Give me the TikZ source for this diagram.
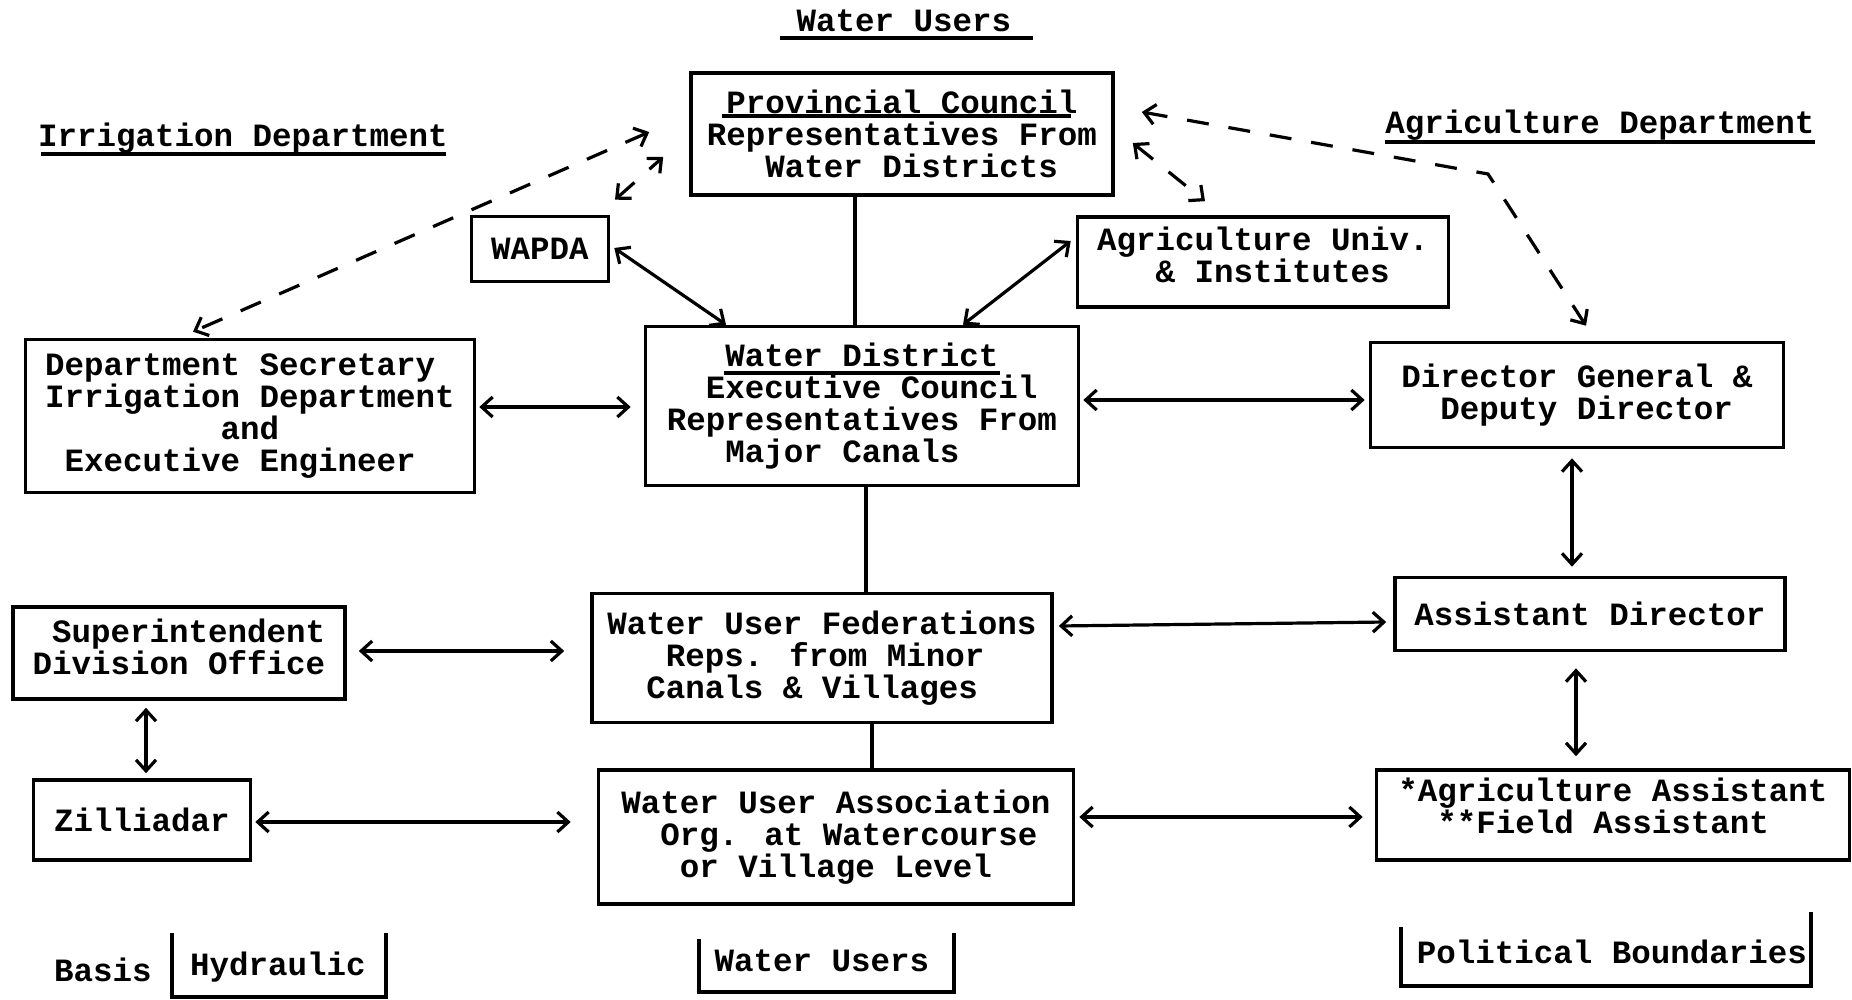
\documentclass[tikz,border=0pt]{standalone}
\usepackage{fontspec}
\newfontfamily\twfont{Liberation Mono}
\usetikzlibrary{arrows.meta}
\newcommand\txtfont{\twfont\bfseries\fontsize{32.5pt}{32pt}\selectfont}
\newcommand\ind[1]{\hspace*{#1\dimexpr19.5pt\relax}}
\tikzset{
  box/.style={draw, line width=3.6pt, align=left, font=\txtfont, inner sep=0pt},
  lbl/.style={align=center, font=\txtfont, inner sep=0pt},
  conn/.style={line width=3.2pt},
  tipb/.tip={Straight Barb[length=11pt,width=20pt]},
  arr/.style={conn, tipb-tipb},
  dashline/.style={line width=3.2pt, dash pattern=on 22pt off 20pt, tipb-tipb},
  uline/.style={line width=3.2pt},
  bracket/.style={line width=3.6pt}
}
\begin{document}
\begin{tikzpicture}[x=1pt,y=-1pt]
\useasboundingbox (0,0) rectangle (1852,1000);
% titles
\node[lbl] (t1) at (904,21) {Water Users};
\draw[uline] ([shift={(-124,17)}]t1.center) -- ++(253,0);
\node[lbl] (t2) at (243,138) {Irrigation Department};
\draw[uline] ([shift={(-202,16)}]t2.center) -- ++(405,0);
\node[lbl] (t3) at (1600,125) {Agriculture Department};
\draw[uline] ([shift={(-215,17)}]t3.center) -- ++(430,0);
% boxes
\node[box, minimum width=422pt, minimum height=122pt] (pc) at (902,134) {\ind{1}Provincial Council\\Representatives From\\\ind{3}Water Districts};
\draw[uline] ([shift={(-180,-18)}]pc.center) -- ++(349,0);
\node[box, minimum width=137pt, minimum height=65pt, align=center] (wapda) at (540,249) {WAPDA};
\node[box, minimum width=371pt, minimum height=90pt, text depth=14pt] (agri) at (1263,262) {Agriculture Univ.\\\ind{3}\& Institutes};
\node[box, minimum width=449pt, minimum height=153pt] (ds) at (250,416) {Department Secretary\\Irrigation Department\\\ind{9}and\\\ind{1}Executive Engineer};
\node[box, minimum width=433pt, minimum height=159pt] (wd) at (862,406) {\ind{3}Water District\\\ind{2}Executive Council\\Representatives From\\\ind{3}Major Canals};
\draw[uline] ([shift={(-138,-33)}]wd.center) -- ++(276,0);
\node[box, minimum width=413pt, minimum height=105pt] (dg) at (1577,395) {Director General \&\\\ind{2}Deputy Director};
\node[box, minimum width=332pt, minimum height=92pt, text depth=12pt] (sup) at (179,653) {\ind{1}Superintendent\\Division Office};
\node[box, minimum width=460pt, minimum height=129pt] (wuf) at (822,658) {Water User Federations\\\ind{3}Reps. from Minor\\\ind{2}Canals \& Villages};
\node[box, minimum width=390pt, minimum height=73pt, align=center] (ad) at (1590,614) {Assistant Director};
\node[box, minimum width=217pt, minimum height=80pt, align=center] (zil) at (142,820) {Zilliadar};
\node[box, minimum width=475pt, minimum height=134pt] (wua) at (836,837) {Water User Association\\\ind{2}Org. at Watercourse\\\ind{3}or Village Level};
\node[box, minimum width=473pt, minimum height=90pt, text depth=18pt] (aa) at (1613,815) {*Agriculture Assistant\\\ind{2}**Field Assistant};
% bottom labels
\node[lbl] (basis) at (103,970) {Basis};
\node[lbl] (hyd) at (278,967) {Hydraulic};
\draw[bracket] (172,933) -- (172,997) -- (386,997) -- (386,933);
\node[lbl] (wu2) at (822,961) {Water Users};
\draw[bracket] (699,939) -- (699,992) -- (954,992) -- (954,933);
\node[lbl] (pol) at (1612,952) {Political Boundaries};
\draw[bracket] (1401,927) -- (1401,986) -- (1811,986) -- (1811,912);
% solid plain lines
\draw[conn] ([xshift=-47pt]pc.south) -- ([xshift=-7pt]wd.north);
\draw[conn] ([xshift=4pt]wd.south) -- ([xshift=44pt]wuf.north);
\draw[conn] ([xshift=50pt]wuf.south) -- ([xshift=36pt]wua.north);
% solid arrows
\draw[arr] ([shift={(4,-1)}]wapda.east) -- ([shift={(-136,0)}]wd.north);
\draw[arr] ([shift={(-5,-21)}]agri.west) -- ([shift={(101,0)}]wd.north);
\draw[arr] ([shift={(3,-9)}]ds.east) -- ([shift={(-13,1)}]wd.west);
\draw[arr] ([shift={(3,-6)}]wd.east) -- ([shift={(-4,5)}]dg.west);
\draw[arr] ([shift={(-5,9)}]dg.south) -- ([shift={(-18,-9)}]ad.north);
\draw[arr] ([shift={(12,-2)}]sup.east) -- ([shift={(-26,-7)}]wuf.west);
\draw[arr] ([shift={(5,-32)}]wuf.east) -- ([shift={(-7,8)}]ad.west);
\draw[arr] ([shift={(-14,16)}]ad.south) -- ([shift={(-37,-12)}]aa.north);
\draw[arr] ([shift={(-33,7)}]sup.south) -- ([shift={(4,-5)}]zil.north);
\draw[arr] ([shift={(3,2)}]zil.east) -- ([shift={(-26,-15)}]wua.west);
\draw[arr] ([shift={(4,-20)}]wua.east) -- ([shift={(-12,2)}]aa.west);
% dashed arrows
\draw[dashline] ([shift={(-40,-2)}]pc.west) -- ([shift={(-57,-6)}]ds.north);
\draw[dashline] ([shift={(75,-15)}]wapda.north) -- ([shift={(-26,23)}]pc.west);
\draw[dashline] ([shift={(18,9)}]pc.east) -- ([shift={(-58,-14)}]agri.north);
\coordinate (k1) at (1488,174);
\draw[dashline] ([shift={(27,-22)}]pc.east) -- (k1) -- ([shift={(9,-15)}]dg.north);
\end{tikzpicture}
\end{document}
